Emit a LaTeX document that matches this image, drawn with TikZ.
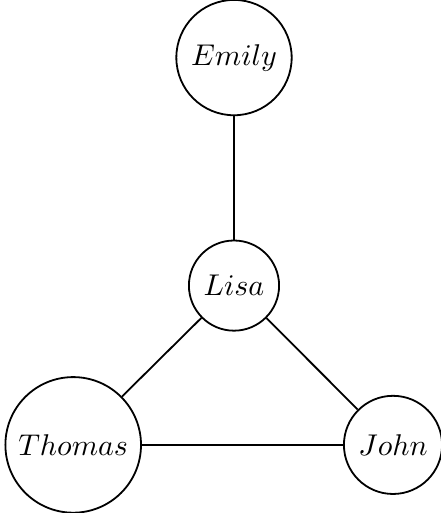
\documentclass[tikz,border=0pt]{standalone}
\begin{document}
\begin{tikzpicture}[x=1pt,y=1pt, line width=0.6pt, person/.style={circle,draw}]
\useasboundingbox (0,0) rectangle (146.67,171);
\node[person] (emily) at (78,151.8) {$Emily$};
\node[person] (lisa) at (78,75.8) {$Lisa$};
\node[person] (thomas) at (24.4,22.7) {$Thomas$};
\node[person] (john) at (131,22.7) {$John$};
\draw (emily) -- (lisa);
\draw (lisa) -- (thomas);
\draw (lisa) -- (john);
\draw (thomas) -- (john);
\end{tikzpicture}
\end{document}
